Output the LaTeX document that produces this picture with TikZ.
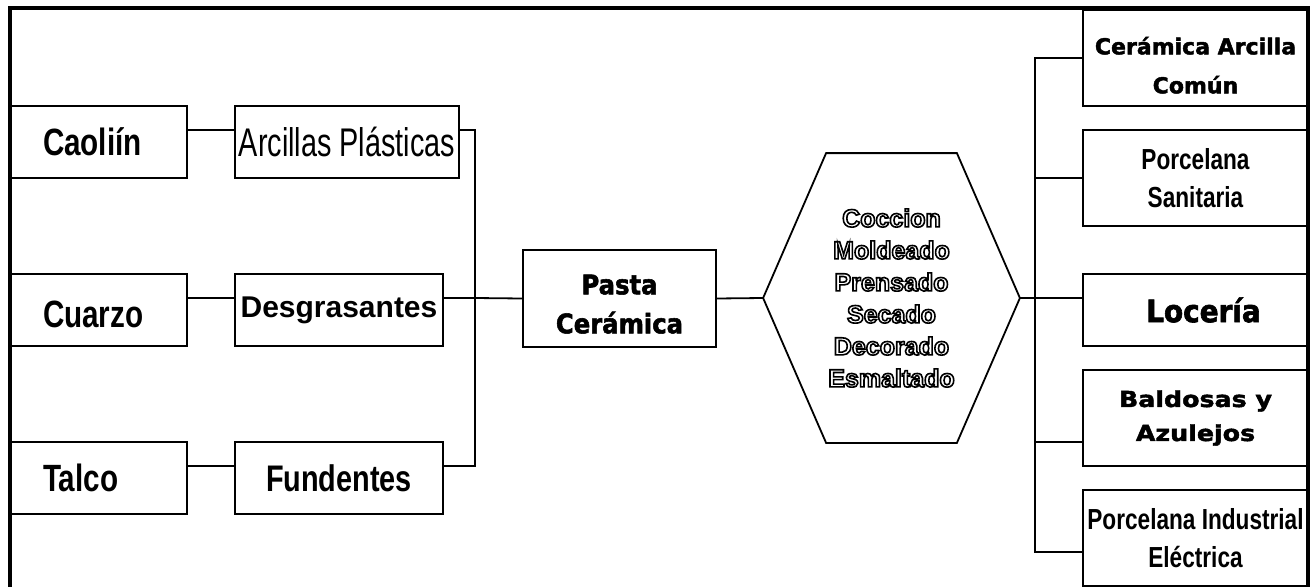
\documentclass[tikz,border=0pt]{standalone}
\usepackage{fontspec}
\setmainfont{Liberation Sans}
\newfontfamily\condfont[FakeStretch=0.78]{Liberation Sans}
\newfontfamily\slimfont[FakeStretch=0.72]{Liberation Sans}
\newfontfamily\heavyfont[FakeBold=2]{DejaVu Sans Bold}
\newfontfamily\heavynarrow[FakeBold=2, FakeStretch=0.9]{DejaVu Sans Bold}
\newfontfamily\heavywide[FakeBold=2, FakeStretch=1.15]{DejaVu Sans Bold}
% hollow letters: text render mode 1 (stroke only)
\newcommand{\hollow}[1]{\special{pdf:literal direct 1 Tr 1.6 w}#1\special{pdf:literal direct 0 Tr 1.79 w}}

\begin{document}
\begin{tikzpicture}[x=1pt, y=-1pt, line width=1.8pt,
		box/.style={draw, rectangle, inner sep=0pt, align=center},
		rawbox/.style={box, minimum width=177pt, minimum height=72pt, inner xsep=33pt,
			text width=111pt, align=left, font=\condfont\bfseries\fontsize{38}{42}\selectfont},
		groupbox/.style={box, minimum height=72pt, font=\condfont\bfseries\fontsize{37}{40}\selectfont},
		outbox/.style={box, minimum width=225pt, minimum height=96pt}]
	\useasboundingbox (0,0) rectangle (1311,586);

	% materias primas
	\node [rawbox] (caolin) at (98.5,142) {Caoliín};
	\node [rawbox] (cuarzo) at (98.5,310) {\rule{0pt}{36pt}Cuarzo};
	\node [rawbox] (talco) at (98.5,478) {Talco};

	\node [groupbox, minimum width=224pt, font=\slimfont\fontsize{40}{44}\selectfont] (arcillas) at (347,142) {Arcillas Plásticas};
	\node [groupbox, minimum width=208pt, font=\bfseries\fontsize{30}{34}\selectfont] (desgras) at (339,310) {Desgrasantes};
	\node [groupbox, minimum width=208pt] (fund) at (339,478) {Fundentes};

	% proceso
	\node [align=center, minimum width=255pt, minimum height=288pt, inner sep=0pt,
		font=\bfseries\fontsize{25}{32}\selectfont] (proc) at (891.5,298)
		{\hollow{Coccion}\\\hollow{Moldeado}\\\hollow{Prensado}\\\hollow{Secado}\\\hollow{Decorado}\\\hollow{Esmaltado}};
	\draw (proc.west) -- ([xshift=63]proc.north west) -- ([xshift=-63]proc.north east) --
		(proc.east) -- ([xshift=-63]proc.south east) -- ([xshift=63]proc.south west) -- cycle;

	\coordinate (join) at (475,298);
	\node [box, minimum width=193pt, minimum height=97pt, font=\heavynarrow\fontsize{27}{39}\selectfont] (pasta) at (619.5,298.5) {\rule{0pt}{31pt}Pasta\\Cerámica};

	% productos
	\node [outbox, font=\heavyfont\fontsize{22}{39}\selectfont] (out1) at (1195.5,58) {\rule{0pt}{32pt}Cerámica Arcilla\\Común};
	\node [outbox, font=\condfont\bfseries\fontsize{29}{38}\selectfont] (out2) at (1195.5,178) {Porcelana\\Sanitaria};
	\node [outbox, minimum height=72pt, font=\heavynarrow\fontsize{31}{34}\selectfont] (out3) at (1195.5,310) {\hspace{16pt}Locería};
	\node [outbox, font=\heavywide\fontsize{22}{34}\selectfont] (out4) at (1195.5,418) {Baldosas y\\Azulejos};
	\node [outbox, font=\condfont\bfseries\fontsize{29}{38}\selectfont] (out5) at (1195.5,538) {Porcelana Industrial\\Eléctrica};

	\draw ([yshift=12]caolin.east) -- ([yshift=12]arcillas.west);
	\draw ([yshift=12]cuarzo.east) -- ([yshift=12]desgras.west);
	\draw ([yshift=12]talco.east) -- ([yshift=12]fund.west);
	\draw ([yshift=12]arcillas.east) -| (join) |- ([yshift=12]fund.east);
	\draw ([yshift=12]desgras.east) -- (join) -- (pasta.west);
	\draw (pasta.east) -- (proc.west);

	\draw (proc.east) -- ([yshift=12]out3.west);
	\draw (out1.west) -- ++(-47,0) |- ([yshift=-14]out5.west);
	\draw (out2.west) -- ++(-47,0);
	\draw ([yshift=-24]out4.west) -- ++(-47,0);

	% marco
	\draw [line width=3.4pt] (10,600) -- (10,8) -- (1308,8) -- (1308,600);
\end{tikzpicture}
\end{document}
